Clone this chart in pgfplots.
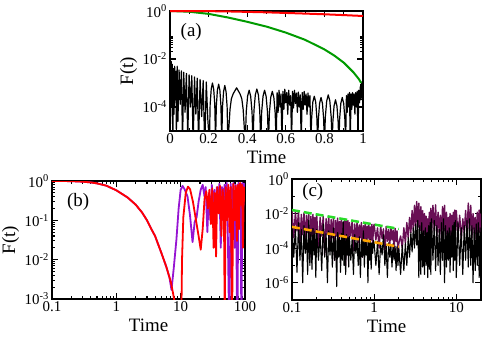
\documentclass[border=0pt]{standalone}
\usepackage{fontspec}
\setmainfont{Liberation Serif}
\usepackage{pgfplots}
\pgfplotsset{compat=1.18}

\definecolor{cred}{RGB}{255,0,0}
\definecolor{cgreen}{RGB}{0,155,0}
\definecolor{cviolet}{RGB}{150,20,210}
\definecolor{cplum}{RGB}{105,15,85}
\definecolor{cbright}{RGB}{40,220,40}
\definecolor{corange}{RGB}{255,165,0}

\pgfplotsset{
  panel/.style={
    scale only axis, anchor=south west, no markers,
    axis line style={line width=1.6bp},
    tick style={line width=1.1bp, black},
    major tick length=6bp, minor tick length=3bp,
    tick label style={font=\fontsize{15}{15}\selectfont},
    xticklabel style={inner sep=2.5bp},
    yticklabel style={inner sep=3bp},
    label style={font=\fontsize{19}{19}\selectfont},
    xlabel style={at={(axis description cs:0.5,0)}, anchor=north, inner sep=0pt, yshift=-20bp},
    ylabel style={at={(axis description cs:-0.215,0.5)}, anchor=center, inner sep=0pt},
    xlabel=Time,
    every axis plot/.append style={line join=round},
  },
}

\begin{document}
\begin{tikzpicture}
\useasboundingbox (0,0) rectangle (485bp,337bp);

% (a)
\begin{axis}[panel, at={(170bp,206bp)}, width=193bp, height=120bp,
  ymode=log, xmin=0, xmax=1, ymin=1e-5, ymax=1,
  xtick={0,0.2,0.4,0.6,0.8,1}, xticklabels={0,0.2,0.4,0.6,0.8,1},
  minor x tick num=1,
  ytick={1e-4,1e-2,1}, yticklabels={10\textsuperscript{-4},10\textsuperscript{-2},10\textsuperscript{0}},
  minor ytick={2e-4,3e-4,4e-4,5e-4,6e-4,7e-4,8e-4,9e-4,2e-2,3e-2,4e-2,5e-2,6e-2,7e-2,8e-2,9e-2},
  ylabel={F(t)}]
\addplot[black, line width=1.2bp] coordinates {
(0.000,3e-3)(0.003,2e-5)(0.006,8e-3)(0.009,1e-4)(0.012,6e-3)(0.015,3e-6)(0.018,4e-3)(0.021,5e-5)(0.024,5e-3)(0.027,2e-4)(0.030,3e-3)(0.033,1e-5)
(0.037,5e-3)(0.041,2.5e-5)(0.047,3.5e-3)(0.053,1.3e-4)(0.059,3.2e-3)(0.065,3e-6)(0.071,2.8e-3)(0.078,6e-5)(0.085,2.5e-3)(0.092,5e-6)(0.099,2.2e-3)(0.106,1e-4)(0.113,2e-3)(0.120,2.5e-6)(0.127,1.8e-3)(0.134,5e-5)(0.141,1.6e-3)(0.148,3e-6)(0.156,1.4e-3)(0.164,4e-5)(0.172,1.26e-3)(0.180,1.6e-6)(0.188,1.1e-3)(0.196,3e-5)
(0.204,3e-6)(0.208,1.26e-4)(0.2136,5.6e-4)(0.220,1e-3)(0.2264,5.6e-4)(0.232,1.26e-4)
(0.236,3e-6)(0.240,1.1e-4)(0.2456,5e-4)(0.252,8.9e-4)(0.2584,5e-4)(0.264,1.1e-4)
(0.268,3e-6)(0.272,1e-4)(0.2776,4.4e-4)(0.284,7.9e-4)(0.2904,4.4e-4)(0.296,1e-4)
(0.300,3e-6)(0.311,8e-5)(0.318,2.2e-4)(0.327,3.5e-4)(0.345,6.3e-4)(0.363,3.5e-4)(0.372,2.2e-4)(0.379,8e-5)
(0.390,3e-6)(0.395,6.3e-5)(0.402,2.8e-4)(0.410,5e-4)(0.418,2.8e-4)(0.425,6.3e-5)
(0.430,3e-6)(0.435,7e-5)(0.442,3.2e-4)(0.450,5.6e-4)(0.458,3.2e-4)(0.465,7e-5)
(0.470,3e-6)(0.475,6.3e-5)(0.482,2.8e-4)(0.490,5e-4)(0.498,2.8e-4)(0.505,6.3e-5)
(0.510,3e-6)(0.515,5.6e-5)(0.522,2.5e-4)(0.530,4.5e-4)(0.538,2.5e-4)(0.545,5.6e-5)(0.550,3e-6)
(0.555,4e-4)(0.560,6e-5)(0.565,5e-4)(0.570,1e-4)(0.575,3.5e-4)(0.580,3e-6)(0.585,4.5e-4)(0.590,8e-5)(0.595,5.5e-4)(0.600,1.5e-4)(0.605,4e-4)(0.610,5e-5)(0.615,5e-4)(0.620,1.2e-4)(0.625,3e-4)(0.630,4e-6)(0.635,4.5e-4)(0.640,9e-5)(0.645,5e-4)(0.650,1.4e-4)(0.655,3.8e-4)(0.660,6e-5)(0.665,4.2e-4)(0.670,1e-4)(0.675,3.2e-4)(0.680,3e-6)(0.685,4e-4)(0.690,8e-5)(0.695,4.5e-4)(0.700,1.2e-4)(0.705,3.5e-4)(0.710,5e-5)(0.715,3.8e-4)(0.720,1e-4)(0.725,3e-4)(0.730,4e-6)
(0.734,3.5e-5)(0.740,1.6e-4)(0.7475,2.8e-4)(0.755,1.6e-4)(0.761,3.5e-5)
(0.765,3e-6)(0.769,3.2e-5)(0.775,1.4e-4)(0.7825,2.5e-4)(0.790,1.4e-4)(0.796,3.2e-5)
(0.800,3e-6)(0.805,4e-5)(0.812,1.8e-4)(0.820,3.2e-4)(0.828,1.8e-4)(0.835,4e-5)
(0.840,3e-6)(0.844,2.5e-5)(0.850,1.1e-4)(0.8575,2e-4)(0.865,1.1e-4)(0.871,2.5e-5)
(0.875,3e-6)(0.879,3.2e-5)(0.885,1.4e-4)(0.8925,2.5e-4)(0.900,1.4e-4)(0.906,3.2e-5)(0.910,3e-6)
(0.914,3e-4)(0.918,6e-5)(0.922,3.5e-4)(0.926,1e-4)(0.930,4e-4)(0.934,3e-6)(0.938,3.5e-4)(0.942,8e-5)(0.946,4e-4)(0.950,1.2e-4)(0.954,3.5e-4)(0.958,5e-5)(0.962,4e-4)(0.966,1e-4)(0.970,4.5e-4)(0.974,4e-6)(0.978,5e-4)(0.982,1.5e-4)(0.986,7e-4)(0.990,2e-4)(0.994,1.1e-3)(0.997,3e-4)(1.000,1.3e-3)
};
\addplot[cgreen, line width=2bp] coordinates {
(0,1)(0.1,0.933)(0.2,0.759)(0.3,0.537)(0.4,0.355)(0.5,0.224)(0.6,0.126)(0.7,0.063)(0.8,0.0251)(0.85,0.0141)(0.9,0.00708)(0.95,0.00282)(0.98,0.00141)(0.99,0.001)
};
\addplot[cred, line width=2bp] coordinates {
(0,1)(0.1,0.997)(0.2,0.985)(0.3,0.96)(0.4,0.92)(0.5,0.88)(0.6,0.83)(0.7,0.78)(0.8,0.73)(0.9,0.675)(1,0.62)
};
\node[font=\fontsize{19}{19}\selectfont] at (rel axis cs:0.11,0.825) {(a)};
\end{axis}

% (b)
\begin{axis}[panel, at={(52bp,38bp)}, width=193bp, height=118bp,
  xmode=log, ymode=log, xmin=0.1, xmax=100, ymin=1e-3, ymax=1,
  xtick={0.1,1,10,100}, xticklabels={0.1,1,10,100},
  minor xtick={0.2,0.3,0.4,0.5,0.6,0.7,0.8,0.9,2,3,4,5,6,7,8,9,20,30,40,50,60,70,80,90},
  ytick={1e-3,1e-2,1e-1,1}, yticklabels={10\textsuperscript{-3},10\textsuperscript{-2},10\textsuperscript{-1},10\textsuperscript{0}},
  minor ytick={2e-3,3e-3,4e-3,5e-3,6e-3,7e-3,8e-3,9e-3,2e-2,3e-2,4e-2,5e-2,6e-2,7e-2,8e-2,9e-2,0.2,0.3,0.4,0.5,0.6,0.7,0.8,0.9},
  ylabel={F(t)}]
\addplot[cviolet, line width=1.8bp] coordinates {
(0.1,1.0)(0.15,0.998)(0.2,0.99)(0.3,0.96)(0.4,0.92)(0.5,0.87)(0.7,0.76)(1.0,0.58)(1.5,0.38)(2.0,0.25)(2.5,0.16)(3.0,0.1)(3.5,0.06)(4.0,0.04)(5.0,0.015)(6.0,0.0065)(6.7,0.0035)(7.2,0.0017)(7.8,0.006)(8.6,0.033)(9.3,0.2)(10,0.6)(10.7,0.75)(11.5,0.62)(12.8,0.4)(14,0.13)(15.3,0.028)(16.5,0.09)(17.7,0.12)(19,0.3)(20.5,0.6)(22,0.8)(23.5,0.4)(24.5,0.7)(26,0.05)(27.5,0.5)(29,0.1)(30.5,0.8)(32,0.15)(33.5,0.6)(35,0.03)(36.5,0.7)(38,0.3)(40,0.85)(42,0.02)(44,0.7)(46,0.1)(48,0.8)(50,0.3)(52,0.9)(54,0.05)(57,0.0001)(60,0.85)(63,0.15)(66,0.9)(69,0.02)(72,0.8)(76,0.0001)(79,0.9)(82,0.1)(85,0.85)(88,0.0001)(91,0.9)(94,0.2)(97,0.85)(100,0.4)
};
\addplot[cred, line width=1.8bp] coordinates {
(0.1,1.0)(0.15,0.998)(0.2,0.99)(0.3,0.96)(0.4,0.92)(0.5,0.87)(0.7,0.76)(1.0,0.58)(1.5,0.38)(2.0,0.25)(2.5,0.16)(3.0,0.1)(3.5,0.06)(4.0,0.04)(5.0,0.015)(6.0,0.0065)(7.0,0.0028)(7.5,0.0016)(8.0,0.0009)(8.5,0.0004)(9.3,0.0001)(10.1,0.00005)(10.5,0.01)(11,0.12)(12,0.5)(13,0.72)(14,0.62)(15.5,0.3)(17,0.12)(19,0.04)(20.5,0.018)(22,0.06)(23.5,0.35)(25,0.55)(26.5,0.2)(28,0.6)(29.5,0.08)(31,0.65)(32.5,0.02)(34,0.5)(35.5,0.012)(37,0.7)(39,0.15)(41,0.75)(43,0.04)(45,0.6)(47,0.2)(48.5,0.0002)(50,0.7)(52.5,0.1)(55,0.8)(57.5,0.05)(60,0.7)(63,0.0003)(66,0.85)(69,0.1)(72,0.75)(75,0.03)(78,0.8)(81,0.06)(84,0.9)(87,0.25)(90,0.8)(93,0.02)(96,0.7)(100,0.3)
};
\node[font=\fontsize{19}{19}\selectfont] at (rel axis cs:0.135,0.82) {(b)};
\end{axis}

% (c)
\begin{axis}[panel, at={(292bp,37bp)}, width=189bp, height=121bp,
  xmode=log, ymode=log, xmin=0.1, xmax=20, ymin=1e-7, ymax=1,
  xtick={0.1,1,10}, xticklabels={0.1,1,10},
  minor xtick={0.2,0.3,0.4,0.5,0.6,0.7,0.8,0.9,2,3,4,5,6,7,8,9,20},
  ytick={1e-6,1e-4,1e-2,1}, yticklabels={10\textsuperscript{-6},10\textsuperscript{-4},10\textsuperscript{-2},10\textsuperscript{0}},
  minor ytick={1e-7,1e-5,1e-3,1e-1}]
\addplot[cplum, line width=1.4bp] coordinates {
(0.100,1.5e-2)(0.105,4e-4)(0.110,1.2e-2)(0.115,1e-3)(0.120,1.4e-2)(0.125,2e-4)(0.130,9e-3)(0.135,6e-4)(0.140,1.1e-2)(0.145,1.5e-4)(0.150,8e-3)(0.155,8e-4)(0.160,1e-2)(0.165,3e-5)(0.170,7e-3)(0.175,5e-4)(0.180,9e-3)(0.185,2e-4)(0.190,6e-3)(0.195,7e-4)
(0.20,8e-3)(0.21,1e-4)(0.22,6e-3)(0.23,5e-4)(0.24,7e-3)(0.25,4e-5)(0.26,5e-3)(0.27,6e-4)(0.28,6.5e-3)(0.29,1.5e-4)(0.30,4.5e-3)(0.31,4e-4)(0.32,6e-3)(0.33,2e-5)(0.34,4e-3)(0.35,5e-4)(0.36,5.5e-3)(0.37,1e-4)(0.38,3.5e-3)(0.39,6e-4)(0.40,5e-3)(0.41,8e-5)(0.42,3e-3)(0.43,3e-4)(0.44,4.5e-3)(0.45,1e-5)(0.46,3.5e-3)(0.47,4e-4)(0.48,4e-3)(0.49,1.2e-4)
(0.50,3e-3)(0.52,5e-4)(0.54,4e-3)(0.56,7e-5)(0.58,2.5e-3)(0.60,3e-4)(0.62,3.5e-3)(0.64,2e-4)(0.66,2.2e-3)(0.68,4e-4)(0.70,3e-3)(0.72,3e-5)(0.74,2e-3)(0.76,3e-4)(0.78,2.8e-3)(0.80,1e-4)(0.82,1.8e-3)(0.84,4e-4)(0.86,2.5e-3)(0.88,6e-5)(0.90,1.7e-3)(0.92,3e-4)(0.94,2.4e-3)(0.96,1.5e-4)(0.98,1.6e-3)
(1.00,2.4e-3)(1.05,3e-4)(1.10,1.5e-3)(1.15,1e-4)(1.20,2e-3)(1.25,3.5e-4)(1.30,1.3e-3)(1.35,5e-5)(1.40,1.8e-3)(1.45,2.5e-4)(1.50,1.2e-3)(1.55,1.5e-4)(1.60,1.6e-3)(1.65,3e-4)(1.70,1.1e-3)(1.75,8e-5)(1.80,1.4e-3)(1.85,2.5e-4)(1.90,1e-3)(1.95,3e-5)
(2.0,2e-4)(2.1,5e-4)(2.2,1e-4)(2.3,1.5e-3)(2.4,2e-4)(2.5,3e-3)(2.6,4e-4)(2.7,6e-3)(2.8,8e-4)(2.9,1.5e-2)(3.0,1e-3)(3.1,3e-2)(3.2,2e-3)(3.3,5e-2)(3.4,1.5e-3)(3.5,4e-2)(3.6,1e-3)(3.7,2.5e-2)(3.8,8e-4)(3.9,1.5e-2)(4.0,5e-4)(4.1,1e-2)(4.2,6e-4)(4.3,7e-3)(4.4,3e-4)(4.5,5e-3)(4.6,8e-4)(4.7,1.2e-2)(4.8,4e-4)(4.9,2e-2)
(5.0,8e-4)(5.2,3e-2)(5.4,1e-3)(5.6,3.2e-2)(5.8,5e-4)(6.0,1.2e-2)(6.2,8e-4)(6.4,8e-3)(6.6,3e-4)(6.8,2.5e-2)(7.0,1e-3)(7.2,3e-2)(7.4,6e-4)(7.6,1.2e-2)(7.8,4e-4)(8.0,6e-3)(8.2,7e-4)(8.4,1e-2)(8.6,3e-4)(8.8,8e-3)(9.0,8e-4)(9.2,1.2e-2)(9.4,5e-4)(9.6,1.6e-2)(9.8,1e-3)
(10.0,1.5e-2)(10.5,6e-4)(11.0,8e-3)(11.5,3e-4)(12.0,5e-3)(12.5,8e-4)(13.0,1.5e-2)(13.5,5e-4)(14.0,4e-2)(14.5,1e-3)(15.0,3e-2)(15.5,4e-4)(16.0,1e-2)(16.5,8e-4)(17.0,6e-3)(17.5,3e-4)(18.0,1.2e-2)(18.5,6e-4)(19.0,1.6e-2)(19.5,8e-4)(20.0,1e-2)
};
\addplot[black, line width=1.1bp] coordinates {
(0.100,2e-3)(0.105,3e-5)(0.110,1.5e-3)(0.115,4e-6)(0.120,3e-3)(0.125,2e-5)(0.130,1.2e-3)(0.135,1e-6)(0.140,2e-3)(0.145,5e-5)(0.150,1e-3)(0.155,3e-6)(0.160,4e-3)(0.165,1e-5)(0.170,1.1e-3)(0.175,6e-6)(0.180,1.4e-3)(0.185,4e-5)(0.190,9e-4)(0.195,2e-6)
(0.20,1.2e-3)(0.21,2e-5)(0.22,8e-4)(0.23,5e-6)(0.24,2.5e-3)(0.25,3e-5)(0.26,7e-4)(0.27,1e-6)(0.28,1e-3)(0.29,4e-5)(0.30,6e-4)(0.31,8e-6)(0.32,1.5e-3)(0.33,2e-5)(0.34,5e-4)(0.35,6e-7)(0.36,8e-4)(0.37,3e-5)(0.38,4.5e-4)(0.39,4e-6)(0.40,7e-4)(0.41,2e-5)(0.42,3.5e-3)(0.43,1e-5)(0.44,5e-4)(0.45,3e-6)(0.46,6e-4)(0.47,4e-5)(0.48,4e-4)(0.49,8e-6)
(0.50,5e-4)(0.52,2e-5)(0.54,3.5e-4)(0.56,3e-6)(0.58,6e-4)(0.60,5e-5)(0.62,3e-4)(0.64,1e-5)(0.66,4.5e-4)(0.68,2e-6)(0.70,3e-4)(0.72,3e-5)(0.74,1e-3)(0.76,8e-6)(0.78,2.5e-4)(0.80,4e-5)(0.82,3.5e-4)(0.84,1e-6)(0.86,2.5e-4)(0.88,2e-5)(0.90,3e-4)(0.92,6e-6)(0.94,2e-4)(0.96,5e-5)(0.98,2.8e-4)
(1.00,2e-4)(1.05,1e-5)(1.10,2.5e-4)(1.15,3e-6)(1.20,1.8e-4)(1.25,4e-5)(1.30,6e-4)(1.35,1e-5)(1.40,1.6e-4)(1.45,2e-6)(1.50,2e-4)(1.55,3e-5)(1.60,1.5e-4)(1.65,8e-6)(1.70,1.8e-4)(1.75,2e-5)(1.80,1.3e-4)(1.85,5e-6)(1.90,1.2e-4)(1.95,1e-5)
(2.0,1e-4)(2.1,3e-6)(2.2,1.5e-4)(2.3,5e-6)(2.4,2e-4)(2.5,1e-5)(2.6,4e-4)(2.7,3e-5)(2.8,8e-4)(2.9,6e-5)(3.0,1.5e-3)(3.1,1e-4)(3.2,2.5e-3)(3.3,1.5e-4)(3.4,4e-3)(3.5,2e-6)(3.6,2e-3)(3.7,3e-6)(3.8,3e-3)(3.9,8e-6)(4.0,1e-3)(4.1,3e-6)(4.2,1.5e-3)(4.3,1e-5)(4.4,8e-4)(4.5,2e-6)(4.6,2e-3)(4.7,6e-6)(4.8,3e-3)(4.9,3e-6)
(5.0,5e-3)(5.2,2e-5)(5.4,4e-3)(5.6,5e-6)(5.8,2e-3)(6.0,1e-5)(6.2,1.2e-3)(6.4,3e-6)(6.6,3e-3)(6.8,2e-5)(7.0,5e-3)(7.2,1e-6)(7.4,2e-3)(7.6,8e-6)(7.8,1e-3)(8.0,2e-5)(8.2,1.5e-3)(8.4,4e-6)(8.6,1e-3)(8.8,3e-5)(9.0,2e-3)(9.2,5e-6)(9.4,3e-3)(9.6,2e-5)(9.8,4e-3)
(10.0,2e-6)(10.5,3e-3)(11.0,1e-5)(11.5,1.5e-3)(12.0,3e-6)(12.5,2e-3)(13.0,2e-5)(13.5,4e-3)(14.0,8e-6)(14.5,5e-3)(15.0,1e-5)(15.5,2e-3)(16.0,1e-6)(16.5,1.5e-3)(17.0,5e-6)(17.5,2.5e-3)(18.0,1e-5)(18.5,3e-3)(19.0,2e-6)(19.5,1.5e-3)(20.0,1e-5)
};
\addplot[cbright, line width=2.5bp, dash pattern=on 8bp off 4bp] coordinates {(0.1,1.6e-2)(2.0,1.3e-3)};
\addplot[corange, line width=2.5bp, dash pattern=on 8bp off 4bp] coordinates {(0.1,1.7e-3)(2.0,1.2e-4)};
\node[font=\fontsize{19}{19}\selectfont] at (rel axis cs:0.11,0.89) {(c)};
\end{axis}
\end{tikzpicture}
\end{document}
